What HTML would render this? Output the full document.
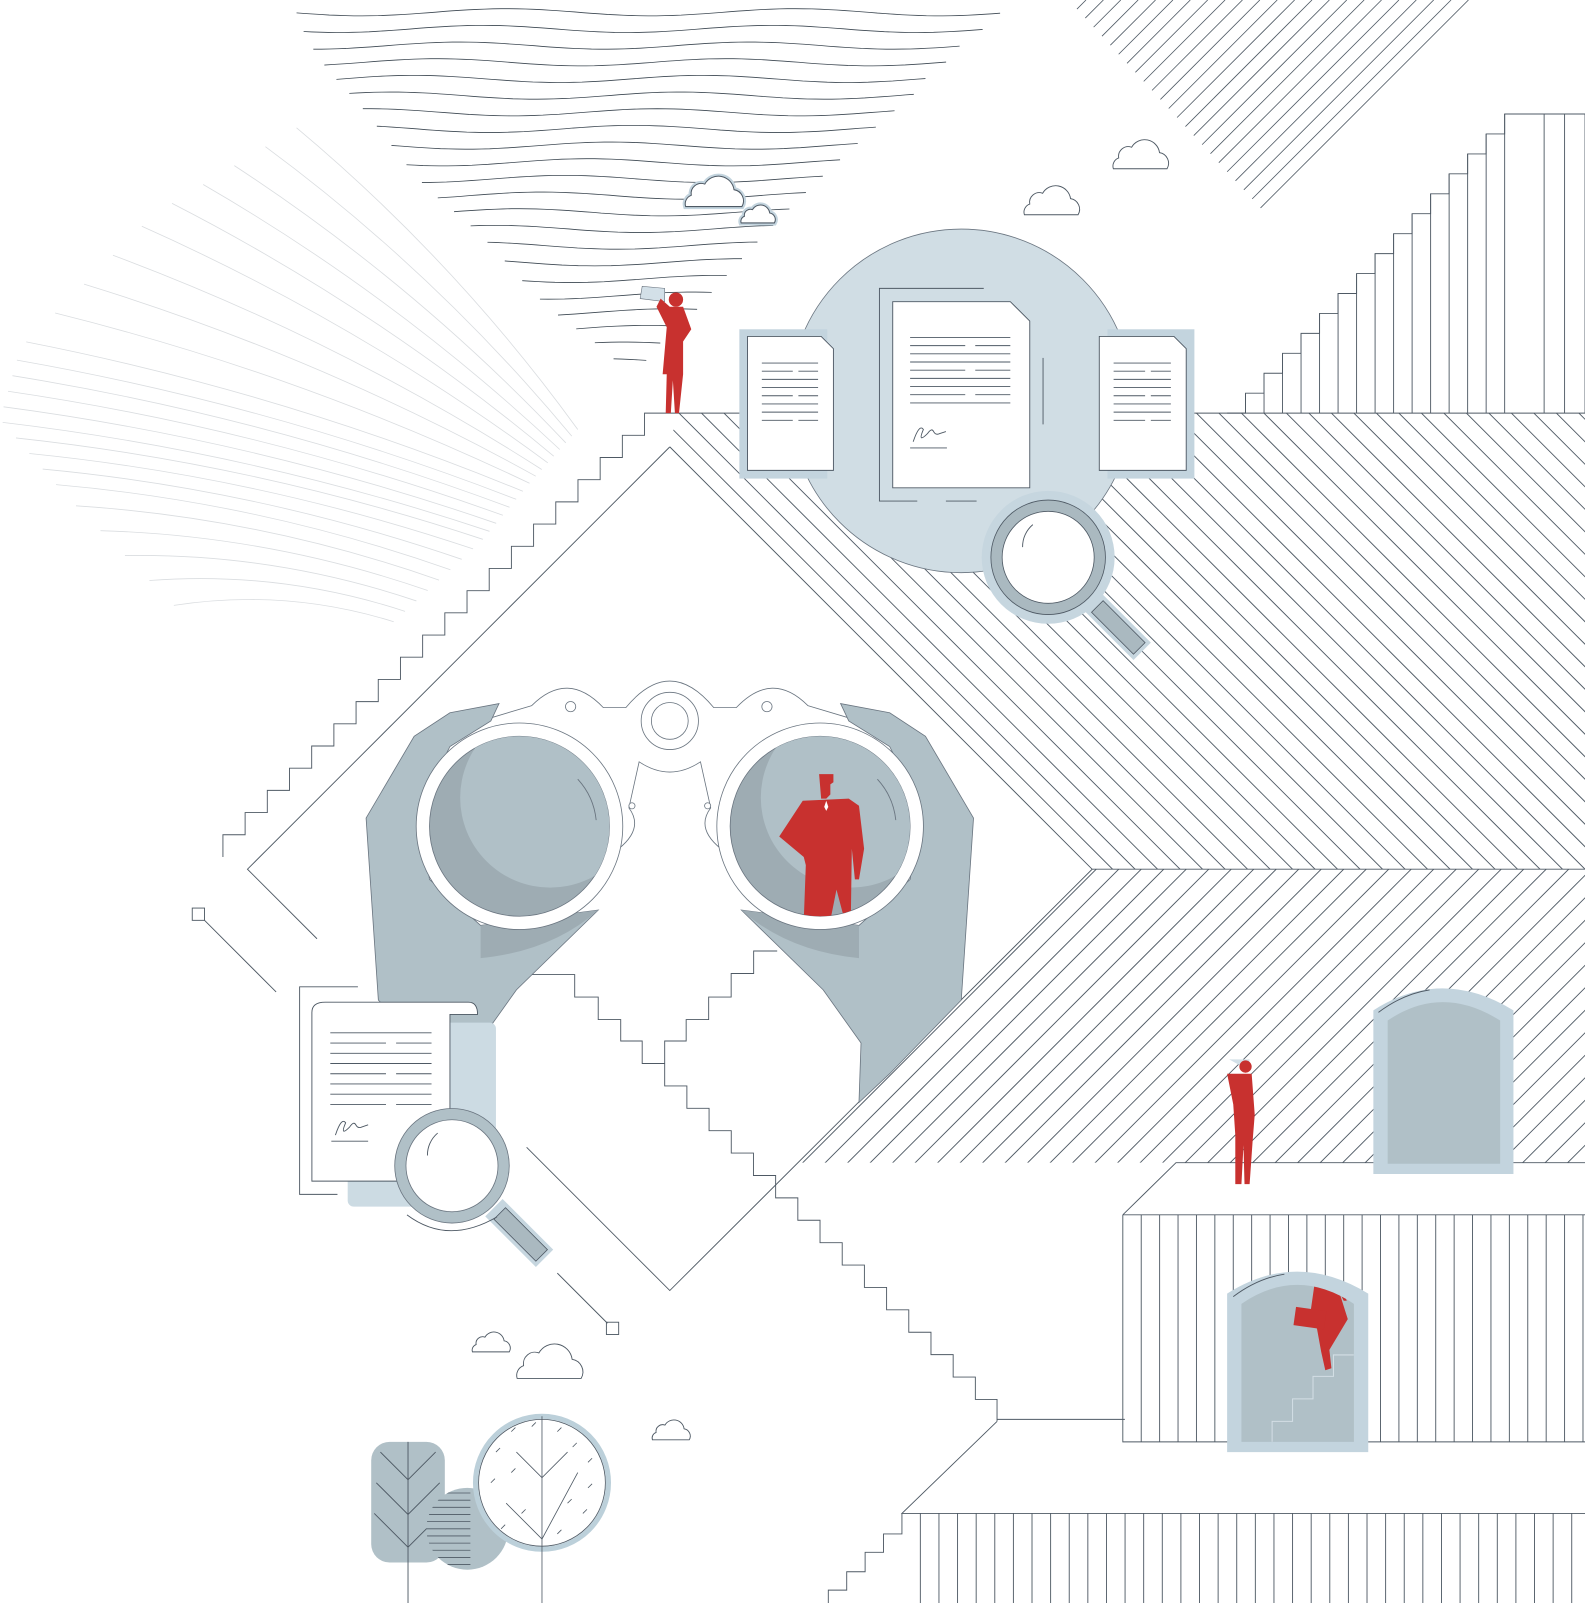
<!DOCTYPE html>
<html><head><meta charset="utf-8"><style>html,body{margin:0;padding:0;background:#fff;overflow:hidden}svg{display:block}</style></head>
<body>
<svg id="s" xmlns="http://www.w3.org/2000/svg" width="1585" height="1603" viewBox="0 0 1585 1603">
<defs>
<clipPath id="c1"><polygon points="662,404 1560,404 1560,850 1068,850 655,437"/></clipPath>
<clipPath id="c2"><polygon points="1068,850 1560,850 1560,1137 781,1137"/></clipPath>
<clipPath id="lensR"><circle cx="802" cy="808" r="88"/></clipPath>
<clipPath id="lensL"><circle cx="508" cy="808" r="88"/></clipPath>
<clipPath id="ball"><circle cx="457" cy="1495" r="40"/></clipPath>
<clipPath id="door2"><path d="M1214,1410 V1275 Q1268,1238 1324,1275 V1410 Z"/></clipPath>
</defs>
<g transform="scale(1.0226)">
<g id="bg" fill="none" stroke="#4e5964" stroke-width="0.9"></g>

<g fill="none" stroke="#4e5964" stroke-width="0.9">
<polyline points="655,437 242,850 310,918"/>
<polyline points="515,1122 655,1262 1068,850 655,437"/>
<line x1="200" y1="900" x2="270" y2="970"/><rect x="188" y="888" width="12" height="12"/>
<line x1="545" y1="1245" x2="594" y2="1294"/><rect x="593" y="1293" width="12" height="12"/>
<path d="M520,953 H562 V975 H585 V997 H607 V1018 H628 V1040 H650"/>
<path d="M760,930 H737 V952 H715 V975 H693 V997 H671 V1018 H650 V1040"/>
<line x1="975" y1="1388" x2="1100" y2="1388"/>
<polyline points="1098,1188 1150,1137 1560,1137"/>
<line x1="1098" y1="1188" x2="1560" y2="1188"/>
<polyline points="1098,1188 1098,1410 1560,1410"/>
<polyline points="975,1390 882,1480 1560,1480"/>
<path d="M810,1575 V1555 H828 V1537 H846 V1518 H864 V1500 H882 V1480"/>
</g>
<g id="fg" fill="none" stroke="#4e5964" stroke-width="0.9"></g>

<circle cx="940" cy="392" r="168" fill="#d0dde4" stroke="#6a7580" stroke-width="0.8"/>
<g fill="none" stroke="#4e5964" stroke-width="0.9">
<polyline points="962,282 860,282 860,490 897,490"/><line x1="925" y1="490" x2="955" y2="490"/><line x1="1020" y1="350" x2="1020" y2="415"/>
</g>
<rect x="723" y="322" width="86" height="146" fill="#c3d4de"/>
<rect x="1083" y="322" width="85" height="146" fill="#c3d4de"/>
<g fill="#fff" stroke="#4e5964" stroke-width="0.9">
<path d="M731,329 H803 L815,341 V460 H731 Z"/>
<path d="M873,295 H988 L1007,314 V477 H873 Z"/>
<path d="M1075,329 H1148 L1160,341 V460 H1075 Z"/>
</g>
<g id="doclines" stroke="#4e5964" stroke-width="0.9"></g>
<path d="M893,432 q6,-18 10,-12 q-6,14 4,4 q4,-6 6,-2 q2,4 6,2 l6,-2" fill="none" stroke="#4e5964" stroke-width="0.9"/>
<line x1="890" y1="438" x2="926" y2="438" stroke="#4e5964" stroke-width="0.9"/>

<g transform="rotate(45 1025 545)">
<rect x="1085" y="533" width="70" height="24" fill="#c6d6df"/>
<rect x="1093" y="537" width="58" height="16" fill="#aab9c0" stroke="#4e5964" stroke-width="0.8"/>
</g>
<circle cx="1025" cy="545" r="65" fill="#c6d6df"/>
<circle cx="1025" cy="545" r="56" fill="#aab9c0" stroke="#4e5964" stroke-width="0.8"/>
<circle cx="1025" cy="545" r="45" fill="#fff" stroke="#4e5964" stroke-width="0.8"/>
<path d="M1000,535 a28,28 0 0 1 10,-22" fill="none" stroke="#4e5964" stroke-width="0.9"/>

<path d="M470,705 L520,690 Q555,655 590,692 L612,692 Q655,640 698,692 L720,692 Q755,655 790,690 L840,705 L840,900 L470,900 Z" fill="#fff"/>
<path d="M470,705 L520,690 Q555,655 590,692 L612,692 Q655,640 698,692 L720,692 Q755,655 790,690 L840,705" fill="none" stroke="#6a7580" stroke-width="0.8"/>
<path d="M605,830 Q630,810 615,790 L625,745 Q655,765 685,745 L695,790 Q680,810 705,830" fill="none" stroke="#6a7580" stroke-width="0.8"/>
<g fill="#fff" stroke="#6a7580" stroke-width="0.8">
<circle cx="655" cy="705" r="28"/><circle cx="655" cy="705" r="18"/>
<circle cx="558" cy="691" r="5"/><circle cx="750" cy="691" r="5"/>
<circle cx="618" cy="788" r="3"/><circle cx="692" cy="788" r="3"/>
</g>
<g fill="#b0c0c7" stroke="#6a7580" stroke-width="0.8">
<path d="M358,800 L405,720 L440,697 L488,688 L480,705 L440,730 L410,790 L420,860 L470,905 L585,890 L505,968 L468,1020 L470,1078 L440,1050 L370,978 Z"/>
<path d="M470,905 L470,937 Q540,930 585,890 Z" fill="#9eacb3" stroke="none"/>
</g>
<g transform="matrix(-1,0,0,1,1310,0)" fill="#b0c0c7" stroke="#6a7580" stroke-width="0.8">
<path d="M358,800 L405,720 L440,697 L488,688 L480,705 L440,730 L410,790 L420,860 L470,905 L585,890 L505,968 L468,1020 L470,1078 L440,1050 L370,978 Z"/>
<path d="M470,905 L470,937 Q540,930 585,890 Z" fill="#9eacb3" stroke="none"/>
</g>
<g stroke="#6a7580" stroke-width="0.8">
<circle cx="508" cy="808" r="101" fill="#fff"/>
<circle cx="802" cy="808" r="101" fill="#fff"/>
<circle cx="508" cy="808" r="88" fill="#9eacb3"/>
<circle cx="802" cy="808" r="88" fill="#9eacb3"/>
</g>
<circle cx="538" cy="780" r="88" fill="#b0c0c7" clip-path="url(#lensL)"/>
<circle cx="832" cy="780" r="88" fill="#b0c0c7" clip-path="url(#lensR)"/>
<g fill="none" stroke="#6a7580" stroke-width="0.9">
<path d="M565,762 a70,70 0 0 1 18,40"/><path d="M858,762 a70,70 0 0 1 18,40"/>
</g>
<g clip-path="url(#lensR)" fill="#c8312f">
<path d="M801,757 h14 v8 l-3,2 v10 l-4,4 h-5 z"/>
<path d="M785,783 L830,781 L840,788 L845,830 L840,860 L836,860 L833,830 L832,900 L826,900 L818,870 L812,900 L786,900 L788,846 L786,838 L762,818 Z"/>
</g>
<path d="M808,783 l2,6 -2,4 -2,-4 z" fill="#fff"/>

<g fill="none" stroke="#4e5964" stroke-width="0.9"><polyline points="350,965 293,965 293,1168 330,1168"/></g>
<rect x="340" y="1000" width="145" height="180" rx="6" fill="#ccdbe3"/>
<path d="M305,990 Q305,980 318,980 H458 Q467,980 467,992 H440 V1155 H305 Z" fill="#fff" stroke="#4e5964" stroke-width="0.9"/>
<g id="doc2" stroke="#4e5964" stroke-width="0.9"></g>
<path d="M328,1110 q6,-18 10,-12 q-6,14 4,4 q4,-6 6,-2 q2,4 6,2 l6,-2" fill="none" stroke="#4e5964" stroke-width="0.9"/>
<line x1="324" y1="1116" x2="360" y2="1116" stroke="#4e5964" stroke-width="0.9"/>
<g transform="rotate(45 442 1140)">
<rect x="500" y="1128" width="70" height="24" fill="#c6d6df"/>
<rect x="508" y="1132" width="58" height="16" fill="#aab9c0" stroke="#4e5964" stroke-width="0.8"/>
</g>
<circle cx="442" cy="1140" r="56" fill="#b0c0c7" stroke="#6a7580" stroke-width="0.8"/>
<circle cx="442" cy="1140" r="45" fill="#fff" stroke="#6a7580" stroke-width="0.8"/>
<path d="M418,1130 a28,28 0 0 1 10,-22" fill="none" stroke="#4e5964" stroke-width="0.9"/>
<path d="M398,1188 q40,30 88,2" fill="none" stroke="#4e5964" stroke-width="0.9"/>

<path d="M1343,1148 V988 Q1410,945 1480,988 V1148 Z" fill="#c3d4de"/>
<path d="M1357,1138 V998 Q1410,962 1467,998 V1138 Z" fill="#b0c0c7"/>
<path d="M1348,990 Q1372,972 1398,968" fill="none" stroke="#4e5964" stroke-width="0.9"/>
<path d="M1200,1420 V1265 Q1268,1222 1338,1265 V1420 Z" fill="#c3d4de"/>
<path d="M1214,1410 V1275 Q1268,1238 1324,1275 V1410 Z" fill="#b0c0c7"/>
<path d="M1206,1268 Q1230,1250 1256,1246" fill="none" stroke="#4e5964" stroke-width="0.9"/>
<path d="M1244,1410 V1390 H1264 V1368 H1284 V1346 H1304 V1325 H1324" fill="none" stroke="#d3dee5" stroke-width="1" clip-path="url(#door2)"/>
<g fill="#c8312f" clip-path="url(#door2)">
<path d="M1286,1252 L1306,1252 L1318,1290 L1300,1320 L1302,1338 L1296,1340 L1292,1322 L1288,1300 L1282,1280 Z"/>
<rect x="1266" y="1280" width="30" height="18" transform="rotate(8 1281 1289)"/>
<path d="M1306,1258 l8,6 3,8 -3,0 -3,-6 z"/>
</g>

<path d="M628,280 L650,282 L650,295 L626,292 Z" fill="#d3e0e8" stroke="#6a7580" stroke-width="0.6"/>
<g fill="#c8312f">
<circle cx="661" cy="293" r="7"/>
<path d="M655,300 L668,300 L676,322 L668,334 L668,366 L664,404 L660,404 L658,372 L656,404 L651,404 L652,366 L648,366 L652,320 L642,300 L646,292 Z"/>
<path d="M1202,1036 L1222,1036 L1220,1046 Z" fill="#d3e0e8"/>
<circle cx="1218" cy="1043" r="6"/>
<path d="M1212,1050 L1224,1050 L1227,1090 L1225,1115 L1222,1158 L1217,1158 L1216,1120 L1214,1158 L1208,1158 L1208,1110 L1206,1080 L1200,1050 Z"/>
</g>

<g id="clouds" fill="#fff" stroke="#4e5964" stroke-width="0.9"></g>

<rect x="363" y="1410" width="72" height="118" rx="18" fill="#b0c0c7"/>
<g fill="none" stroke="#4e5964" stroke-width="0.9">
<line x1="399" y1="1410" x2="399" y2="1575"/>
<polyline points="372,1420 399,1447 426,1420"/><polyline points="368,1450 399,1481 430,1450"/><polyline points="366,1480 399,1513 432,1480"/>
</g>
<circle cx="457" cy="1495" r="40" fill="#b0c0c7"/>
<g id="ballL" clip-path="url(#ball)" stroke="#4e5964" stroke-width="0.8"></g>
<circle cx="530" cy="1450" r="65" fill="#fff" stroke="#bcd0da" stroke-width="5"/>
<circle cx="530" cy="1450" r="62" fill="none" stroke="#4e5964" stroke-width="0.8"/>
<g fill="none" stroke="#4e5964" stroke-width="0.8">
<line x1="530" y1="1385" x2="530" y2="1575"/>
<polyline points="495,1470 530,1505 565,1440"/><polyline points="505,1420 530,1445 555,1420"/>
</g>
<g id="dash" stroke="#4e5964" stroke-width="0.8"></g>
</g>
</svg>
<script>
var NS="http://www.w3.org/2000/svg";
function el(parent,tag,attrs){var e=document.createElementNS(NS,tag);for(var k in attrs)e.setAttribute(k,attrs[k]);document.getElementById(parent).appendChild(e);return e;}
for(var i=0;i<22;i++){var t=i/21;var y=12+i*16.3;var xl=290+310*Math.pow(t,1.25);var xr=982-345*Math.pow(t,0.95);var d="";for(var x=xl;x<=xr;x+=8){var yy=y+3.5*Math.sin(x/45+i*0.5);d+=(d?"L":"M")+x.toFixed(1)+","+yy.toFixed(1);}el("bg","path",{d:d,stroke:"#3d4852","stroke-width":0.8});}
function lerpP(pts,t){var n=pts.length-1;var f=t*n;var k=Math.min(Math.floor(f),n-1);var u=f-k;return[pts[k][0]+(pts[k+1][0]-pts[k][0])*u,pts[k][1]+(pts[k+1][1]-pts[k][1])*u];}
var S=[[290,125],[150,210],[20,340],[0,410],[60,480],[170,592]];var E=[[565,420],[520,470],[470,530],[385,608]];
for(var i=0;i<24;i++){var t=i/23;var a=lerpP(S,t),b=lerpP(E,t);var mx=(a[0]+b[0])/2,my=(a[1]+b[1])/2;var dx=b[0]-a[0],dy=b[1]-a[1];var L=Math.hypot(dx,dy);var cx=mx+dy/L*25,cy=my-dx/L*25;el("bg","path",{d:"M"+a+" Q"+cx+","+cy+" "+b,stroke:"#dadde0","stroke-width":0.8});}
for(var x0=1045;x0<=1452;x0+=17){var t=0.52*(x0-1045);el("bg","line",{x1:x0,y1:0,x2:x0-t,y2:t,"stroke-width":0.8});}
var g1=el("bg","g",{"clip-path":"url(#c1)"});
for(var c=-400;c<1200;c+=22){var l=document.createElementNS(NS,"line");l.setAttribute("x1",c+400);l.setAttribute("y1",400);l.setAttribute("x2",c+900);l.setAttribute("y2",900);g1.appendChild(l);}
var g2=el("bg","g",{"clip-path":"url(#c2)"});
for(var c=1900;c<2800;c+=22){var l=document.createElementNS(NS,"line");l.setAttribute("x1",c-1140);l.setAttribute("y1",1140);l.setAttribute("x2",c-845);l.setAttribute("y2",845);g2.appendChild(l);}
el("bg","line",{x1:1068,y1:850,x2:1560,y2:850});
var d="M218,838";var x=218,y=838;for(var k=0;k<20;k++){y-=21.7;d+=" V"+y.toFixed(1);x+=21.7;d+=" H"+x.toFixed(1);}d+=" H1560";el("fg","path",{d:d});
d="M1200,404 H1218";x=1218;y=404;for(var k=0;k<15;k++){y-=19.5;d+=" V"+y.toFixed(1);el("fg","line",{x1:x,y1:y,x2:x,y2:404});x+=18.1;d+=" H"+x.toFixed(1);}d+=" H1560";el("fg","path",{d:d});
[1510,1530,1550].forEach(function(xx){el("fg","line",{x1:xx,y1:112,x2:xx,y2:404});});
d="M650,1040";x=650;y=1040;for(var k=0;k<15;k++){y+=21.9;d+=" V"+y.toFixed(1);x+=21.7;if(x>975)x=975;d+=" H"+x.toFixed(1);}d+=" V1390";el("fg","path",{d:d});
for(var xx=1116;xx<1560;xx+=18)el("fg","line",{x1:xx,y1:1188,x2:xx,y2:1410});
for(var xx=900;xx<=1545;xx+=18.2)el("fg","line",{x1:xx,y1:1480,x2:xx,y2:1575});
function dl(g,x1,x2,ys){ys.forEach(function(yy,i){var sp=(i%3==1);if(sp){el(g,"line",{x1:x1,y1:yy,x2:x1+(x2-x1)*0.55,y2:yy});el(g,"line",{x1:x1+(x2-x1)*0.65,y1:yy,x2:x2,y2:yy});}else el(g,"line",{x1:x1,y1:yy,x2:x2,y2:yy});});}
dl("doclines",745,800,[355,363,371,379,387,395,403,411]);
dl("doclines",1089,1145,[355,363,371,379,387,395,403,411]);
dl("doclines",890,988,[330,338,346,354,362,370,378,386,394]);
dl("doc2",323,422,[1010,1020,1030,1040,1050,1060,1070,1080]);
for(var yy=1460;yy<1540;yy+=7)el("ballL","line",{x1:415,y1:yy,x2:460,y2:yy});
[[485,1420],[500,1400],[545,1400],[560,1415],[575,1430],[480,1450],[500,1440],[555,1470],[570,1480],[510,1480],[490,1495],[545,1500],[520,1395],[575,1455]].forEach(function(p){el("dash","line",{x1:p[0],y1:p[1],x2:p[0]+4,y2:p[1]-4});});
function cloud(cx,by,s,blue){var d="M"+(cx-25*s)+","+by+" H"+(cx+25*s)+" A"+(10*s)+","+(10*s)+" 0 0 0 "+(cx+18*s)+","+(by-15*s)+" A"+(14*s)+","+(14*s)+" 0 0 0 "+(cx-8*s)+","+(by-20*s)+" A"+(9*s)+","+(9*s)+" 0 0 0 "+(cx-20*s)+","+(by-10*s)+" A"+(8*s)+","+(8*s)+" 0 0 0 "+(cx-25*s)+","+by+" Z";var a={d:d};if(blue){a.stroke="#4e5964";a["stroke-width"]=1;el("clouds","path",{d:d,stroke:"#c3d4de","stroke-width":5});}el("clouds","path",a);}
cloud(1115,165,1.05);cloud(1028,210,1.05);cloud(698,202,1.1,true);cloud(741,218,0.65,true);cloud(480,1322,0.72);cloud(537,1348,1.25);cloud(656,1408,0.72);
</script>
</body></html>
